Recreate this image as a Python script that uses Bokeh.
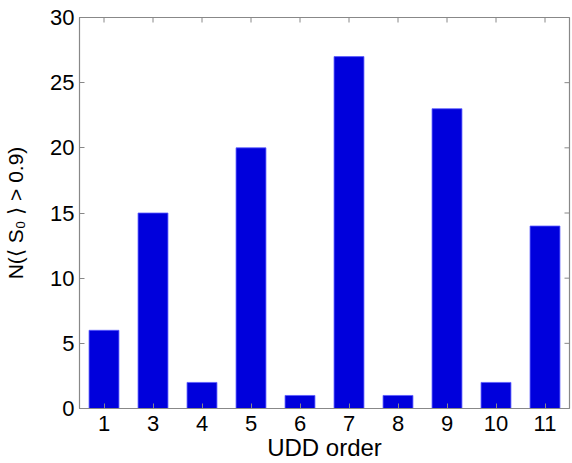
import math
from bokeh.plotting import figure
from bokeh.models import FactorRange, Range1d, FixedTicker, ColumnDataSource
from bokeh.transform import dodge
from bokeh.embed import file_html
from bokeh.resources import INLINE

orders = ["1", "3", "4", "5", "6", "7", "8", "9", "10", "11"]
counts = [6, 15, 2, 20, 1, 27, 1, 23, 2, 14]
y_ticks = [0, 5, 10, 15, 20, 25, 30]
y_max = 30

FONT = "Liberation Sans"
AX = "#888888"

src = ColumnDataSource(dict(x=orders, top=counts))
top_src = ColumnDataSource(dict(x=orders, y=[y_max] * len(orders)))
right_src = ColumnDataSource(dict(x=[orders[-1]] * len(y_ticks), y=y_ticks))

p = figure(x_range=FactorRange(*orders, range_padding=0), y_range=Range1d(0, y_max),
           width=572, height=463,
           min_border_left=79, min_border_top=17, min_border_right=3, min_border_bottom=54,
           output_backend="svg", toolbar_location=None)

p.vbar(x="x", top="top", width=0.61, source=src, fill_color="#0000dc",
       line_color="#5a5aff", line_width=0.8)

# box ticks on the top and right edges, pointing inward
p.ray(x="x", y="y", source=top_src, length=5, length_units="screen",
      angle=-math.pi / 2, line_color=AX, line_width=1)
p.ray(x=dodge("x", 0.5, range=p.x_range), y="y", source=right_src, length=5,
      length_units="screen", angle=math.pi, line_color=AX, line_width=1)

p.grid.visible = False
p.outline_line_color = AX
p.outline_line_width = 1.2

for ax in p.yaxis:
    ax.ticker = FixedTicker(ticks=y_ticks)
    ax.axis_label = "N(⟨ S₀ ⟩ > 0.9)"
for ax in p.xaxis:
    ax.axis_label = "UDD order"

for ax in list(p.xaxis) + list(p.yaxis):
    ax.axis_line_color = AX
    ax.major_tick_line_color = AX
    ax.major_tick_in = 5
    ax.major_tick_out = 0
    ax.minor_tick_line_color = None
    ax.major_label_text_font = FONT
    ax.major_label_text_font_size = "22px"
    ax.major_label_text_color = "black"
    ax.axis_label_text_font = FONT
    ax.axis_label_text_font_style = "normal"
    ax.axis_label_text_color = "black"

p.yaxis.axis_label_text_font_size = "21px"
p.xaxis.axis_label_text_font_size = "24px"
p.yaxis.major_label_standoff = 5
p.yaxis.axis_label_standoff = 20
p.xaxis.major_label_standoff = 7
p.xaxis.axis_label_standoff = 0

open("out.html", "w").write(file_html(p, INLINE))
